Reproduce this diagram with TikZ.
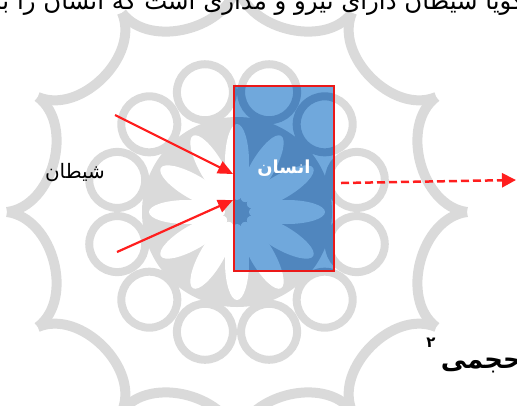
\documentclass[tikz,border=0pt]{standalone}
\usepackage{fontspec}
\newfontfamily\arabicfont[Script=Arabic]{DejaVu Sans}
\TeXXeTstate=1
\usetikzlibrary{arrows.meta,calc}

\definecolor{rosegray}{RGB}{218,218,218}
\definecolor{manblue}{RGB}{112,168,220}
\definecolor{mandark}{RGB}{80,134,190}
\definecolor{boxred}{RGB}{235,25,25}
\definecolor{arrowred}{RGB}{255,30,30}

% watermark rosette: #1 line colour, #2 paper colour
\newcommand\rosette[2]{%
  \fill[#1] (C) circle (95);
  \foreach \k in {0,...,11}{
    \fill[#2,rotate around={\k*30:(C)}] ($(C)+(50,0)$) ellipse (38 and 12);
    \draw[#1,line width=8bp] ($(C)+(\k*30+15:124)$) circle (28);
    \draw[#1,line width=10bp] ($(C)+(\k*30:230)$) to[bend right=68] ($(C)+(\k*30+30:230)$);
  }
  \fill[#1] (C) circle (10);
}

\begin{document}
\begin{tikzpicture}[x=1bp,y=-1bp,
  inarrow/.style={draw=arrowred,line width=2.2bp,-{Triangle[length=15bp,width=13bp]}},
  outarrow/.style={draw=arrowred,line width=2.5bp,dash pattern=on 8bp off 4bp,-{Triangle[length=14bp,width=14bp]}},
  human/.style={draw=boxred,line width=2bp,minimum width=100bp,minimum height=185bp,inner sep=0pt},
  fa/.style={inner sep=0pt}]
  \useasboundingbox (0,0) rectangle (517,405);
  \clip (0,0) rectangle (517,405);

  % background ornament
  \coordinate (C) at (237,212);
  \rosette{rosegray}{white}

  % the cut-off line above
  \node[fa,anchor=base east,font=\arabicfont\fontsize{24.5}{29}\selectfont] (headline) at (524,9)
    {\beginR گویا شیطان دارای نیرو و مداری است که انسان را با\endR};

  % the box, with the ornament showing through
  \begin{scope}
    \clip (234,86) rectangle (334,271);
    \fill[manblue] (234,86) rectangle (334,271);
    \rosette{mandark}{manblue}
  \end{scope}
  \node[human] (man) at (284,178.5) {};
  \node[fa,text=white,font=\arabicfont\bfseries\fontsize{18}{22}\selectfont] (manlabel)
    at ([yshift=10bp]man.center) {\beginR انسان\endR};

  \node[fa,font=\arabicfont\fontsize{20}{24}\selectfont] (devil) at (75,173) {\beginR شیطان\endR};

  % forces on the box
  \coordinate (d1) at (115,115);
  \coordinate (d2) at (117,252);
  \coordinate (out) at (516,180);
  \draw[inarrow] (d1) -- ($(man.west)+(0,-4.5)$);
  \draw[inarrow] (d2) -- ($(man.west)+(0,21.5)$);
  \draw[outarrow] ($(man.east)+(6,4.5)$) -- (out);

  % footnote word
  \node[fa,anchor=base east,font=\arabicfont\bfseries\fontsize{26}{30}\selectfont] (volume) at (522,368)
    {\beginR حجمی\endR};
  \node[fa,font=\arabicfont\bfseries\fontsize{15}{18}\selectfont] (fnmark) at (431,343) {۲};
\end{tikzpicture}
\end{document}
